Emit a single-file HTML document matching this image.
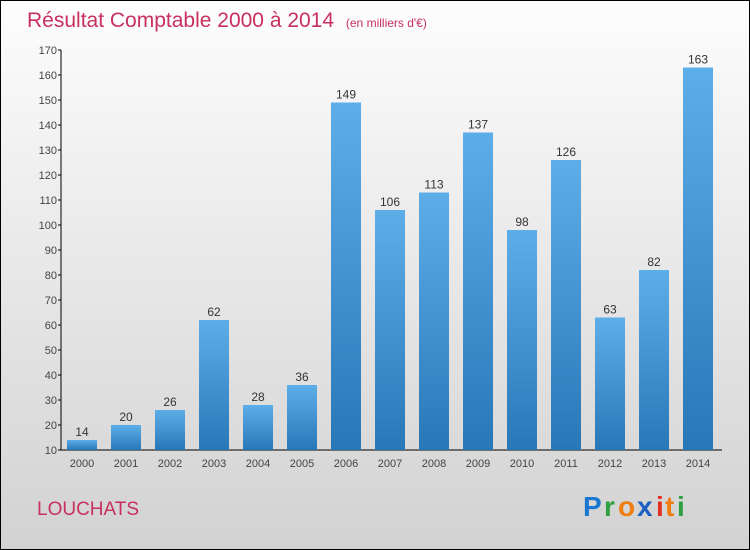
<!DOCTYPE html>
<html><head><meta charset="utf-8"><style>
html,body{margin:0;padding:0}
body{width:750px;height:550px;overflow:hidden;font-family:"Liberation Sans",sans-serif}
#wrap{position:relative;width:748px;height:548px;border:1px solid #000;background:linear-gradient(#fdfdfd,#d2d2d2)}
</style></head><body>
<div id="wrap">
<svg id="chart" width="748" height="548" style="position:absolute;left:0;top:0">
<defs><linearGradient id="bg" x1="0" y1="0" x2="0" y2="1"><stop offset="0" stop-color="#5daee8"/><stop offset="1" stop-color="#2778b7"/></linearGradient></defs>
<text x="26" y="26" font-size="21" fill="#c8305f">Résultat Comptable 2000 à 2014 <tspan font-size="12" dx="6">(en milliers d'€)</tspan></text>
<text x="36" y="514" font-size="19" fill="#c8305f">LOUCHATS</text>
<g font-size="28" font-weight="bold">
<text x="582" y="515" fill="#1b78d0">P</text><text x="603" y="515" fill="#2ea040">r</text><text x="617" y="515" fill="#f07d10">o</text><text x="636" y="515" fill="#1b60c0">x</text><text x="655" y="515" fill="#e03020">i</text><text x="664" y="515" fill="#f07d10">t</text><text x="676" y="515" fill="#2ea040">i</text>
</g>
<g id="axes"></g><g id="bars"></g>
</svg>
</div>
<script>
const years=["2000","2001","2002","2003","2004","2005","2006","2007","2008","2009","2010","2011","2012","2013","2014"];
const values=[14,20,26,62,28,36,149,106,113,137,98,126,63,82,163];
const ticks=[10,20,30,40,50,60,70,80,90,100,110,120,130,140,150,160,170];
const NS="http://www.w3.org/2000/svg";
const y=v=>449-(v-10)*2.5;
const x=i=>81+i*44;
function mk(t,a,p){const e=document.createElementNS(NS,t);for(const k in a)e.setAttribute(k,a[k]);p.appendChild(e);return e;}
const ax=document.getElementById('axes'),bs=document.getElementById('bars');
const yl=mk('line',{x1:60,y1:y(170),x2:60,y2:449,stroke:'#000'},ax);


const xl=mk('line',{x1:60,y1:449,x2:721,y2:449,stroke:'#000'},ax);


ticks.forEach(t=>{
 mk('line',{x1:57,x2:60,y1:y(t),y2:y(t),stroke:'#000'},ax);
 const tx=mk('text',{x:56,y:y(t)+4,'font-size':11,'text-anchor':'end',fill:'#444'},ax);
 tx.textContent=t;
 
 
});
years.forEach((yr,i)=>{
 const v=values[i];
 const r=mk('rect',{x:x(i)-15,y:y(v),width:30,height:449-y(v),fill:'url(#bg)'},bs);
 
 
 const lb=mk('text',{x:x(i),y:y(v)-4,'font-size':12,'text-anchor':'middle',fill:'#333'},bs);
 lb.textContent=v;
 
 
 const xt=mk('text',{x:x(i),y:466,'font-size':11,'text-anchor':'middle',fill:'#444'},ax);
 xt.textContent=yr;
 
 
});
</script>
</body></html>
